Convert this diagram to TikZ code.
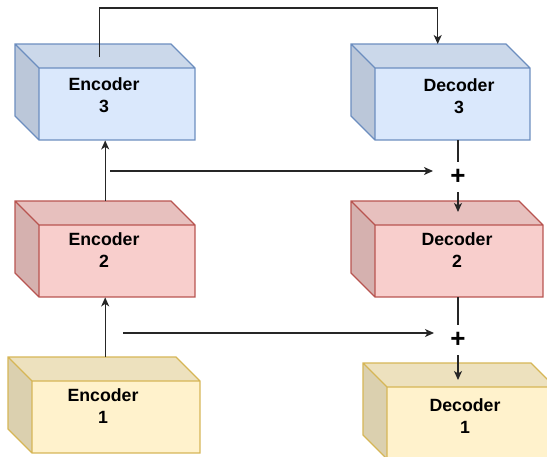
\documentclass[tikz,border=0pt]{standalone}
\usepackage{fontspec}
\setmainfont{Liberation Sans}
\usetikzlibrary{arrows.meta}
\definecolor{bF}{HTML}{DAE8FC}\definecolor{bS}{HTML}{6C8EBF}
\definecolor{rF}{HTML}{F8CECC}\definecolor{rS}{HTML}{B85450}
\definecolor{yF}{HTML}{FFF2CC}\definecolor{yS}{HTML}{D6B656}
\newcommand\mycube[7]{%
  \fill[#6!93!black] (#2,#3) -- (#4-24,#3) -- (#4,#3+24) -- (#2+24,#3+24) -- cycle;
  \fill[#6!86!black] (#2,#3) -- (#2+24,#3+24) -- (#2+24,#5) -- (#2,#5-24) -- cycle;
  \fill[#6] (#2+24,#3+24) rectangle (#4,#5);
  \draw[cubeline,#7] (#2,#3) -- (#4-24,#3) -- (#4,#3+24) -- (#4,#5) -- (#2+24,#5) -- (#2,#5-24) -- cycle
     (#2,#3) -- (#2+24,#3+24) -- (#4,#3+24) (#2+24,#3+24) -- (#2+24,#5);
  \node[inner sep=0pt,minimum width=#4-#2,minimum height=#5-#3,anchor=north west] (#1) at (#2,#3) {};
}
\tikzset{
  cubeline/.style={line width=1.2pt,line join=miter},
  conn/.style={line width=1.3pt,draw=black!85},
  arr/.style={conn,-{Stealth[length=9pt,width=8pt,inset=2.5pt]}},
  lbl/.style={align=center,inner sep=0pt,font=\fontsize{17.7}{21.5}\selectfont\bfseries},
  plus/.style={inner sep=0pt,minimum size=30pt,font=\fontsize{26}{26}\selectfont\bfseries},
}
\begin{document}
\begin{tikzpicture}[x=1pt,y=-1pt]
\useasboundingbox (0,0) rectangle (547,456);
% cubes
\mycube{e3}{15}{44}{195}{140}{bF}{bS}
\mycube{e2}{15}{201}{195}{297}{rF}{rS}
\mycube{e1}{8}{357}{200}{453}{yF}{yS}
\mycube{d3}{351}{44}{530}{140}{bF}{bS}
\mycube{d2}{351}{201}{543}{297}{rF}{rS}
\mycube{d1}{363}{363}{555}{459}{yF}{yS}
% labels
\node[lbl] (le3) at (104,95) {Encoder\\3};
\node[lbl] (le2) at (104,250) {Encoder\\2};
\node[lbl] (le1) at (103,406) {Encoder\\1};
\node[lbl] (ld3) at (459,96) {Decoder\\3};
\node[lbl] (ld2) at (457,250) {Decoder\\2};
\node[lbl] (ld1) at (465,416) {Decoder\\1};
% plus signs
\node[plus] (p1) at (458,177) {+};
\node[plus] (p2) at (458,340) {+};
% free ends
\coordinate (s1) at (110,171);
\coordinate (t1) at (433,171);
\coordinate (s2) at (123,333);
\coordinate (t2) at (434,333);
\coordinate (c1) at (458,212);
\coordinate (c2) at (458,380);
% connectors
\draw[arr] ([shift={(-6,13)}]e3.north) -- ++(0,-49) -| ([xshift=-3pt]d3.north);
\draw[arr] (e2.north) -- (e3.south);
\draw[arr] (e2.south |- e1.north) -- (e2.south);
\draw[arr] (s1) -- (t1);
\draw[arr] (s2) -- (t2);
\draw[conn] (p1.north |- d3.south) -- (p1.north);
\draw[arr] (p1.south) -- (c1);
\draw[conn] (p2.north |- d2.south) -- (p2.north);
\draw[arr] (p2.south) -- (c2);
\end{tikzpicture}
\end{document}
